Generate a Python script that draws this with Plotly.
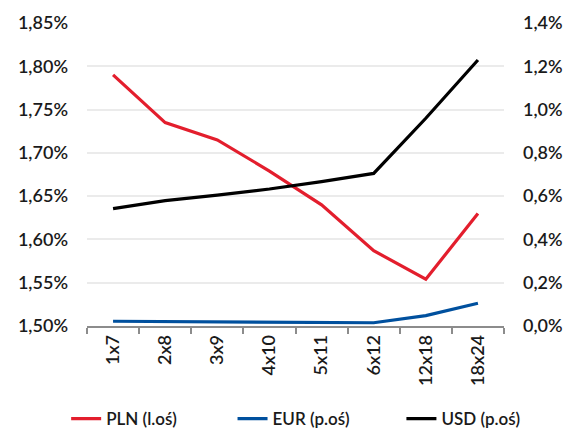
import plotly.graph_objects as go

categories = ["1x7", "2x8", "3x9", "4x10", "5x11", "6x12", "12x18", "18x24"]
pln = [1.790, 1.735, 1.715, 1.679, 1.640, 1.587, 1.554, 1.630]
eur = [0.022, 0.020, 0.018, 0.017, 0.016, 0.015, 0.048, 0.105]
usd = [0.542, 0.579, 0.605, 0.633, 0.667, 0.705, 0.960, 1.229]

left_ticks = [1.50, 1.55, 1.60, 1.65, 1.70, 1.75, 1.80, 1.85]
right_ticks = [0.0, 0.2, 0.4, 0.6, 0.8, 1.0, 1.2, 1.4]

font = "Lato"
tf = dict(family=font, size=18, color="#1a1a1a", weight=600)
lf = dict(family=font, size=17, color="#1a1a1a", weight=600)
fig = go.Figure()
fig.add_trace(go.Scatter(x=categories, y=[v / 100 for v in pln], name="PLN (l.oś)",
                         mode="lines", line=dict(color="#E31E2D", width=3.2), yaxis="y",
                         legend="legend"))
fig.add_trace(go.Scatter(x=categories, y=[v / 100 for v in eur], name="EUR (p.oś)",
                         mode="lines", line=dict(color="#00509E", width=3.2), yaxis="y2",
                         legend="legend2"))
fig.add_trace(go.Scatter(x=categories, y=[v / 100 for v in usd], name="USD (p.oś)",
                         mode="lines", line=dict(color="#000000", width=3.2), yaxis="y2",
                         legend="legend3"))

leg_common = dict(orientation="h", xanchor="left", y=-0.307, yanchor="middle", font=lf)

fig.update_layout(
    width=569, height=432,
    margin=dict(l=87, r=65, t=23, b=106, autoexpand=False),
    paper_bgcolor="white", plot_bgcolor="white",
    separators=",.",
    font=tf,
    showlegend=True,
    legend=dict(x=-0.050, **leg_common),
    legend2=dict(x=0.349, **leg_common),
    legend3=dict(x=0.754, **leg_common),
    xaxis=dict(type="category", range=[-0.5, 7.5], automargin=False, showgrid=False,
               showline=True, linecolor="#8c8c8c", linewidth=1.5,
               ticks="outside", tickson="boundaries", ticklen=6, tickcolor="#8c8c8c", tickwidth=1.5,
               tickangle=-90, tickfont=tf),
    yaxis=dict(range=[0.015, 0.0185], tickvals=[v / 100 for v in left_ticks], tickformat=".2%",
               automargin=False,
               showgrid=True, gridcolor="#ebebeb", gridwidth=1.5, showline=False, zeroline=False,
               ticks="", ticklabelstandoff=18, tickfont=tf),
    yaxis2=dict(range=[0.0, 0.014], tickvals=[v / 100 for v in right_ticks], tickformat=".1%",
                automargin=False,
                overlaying="y", side="right", showgrid=False, showline=False, zeroline=False,
                ticks="", ticklabelstandoff=18, tickfont=tf),
)

fig.write_html("out.html")
